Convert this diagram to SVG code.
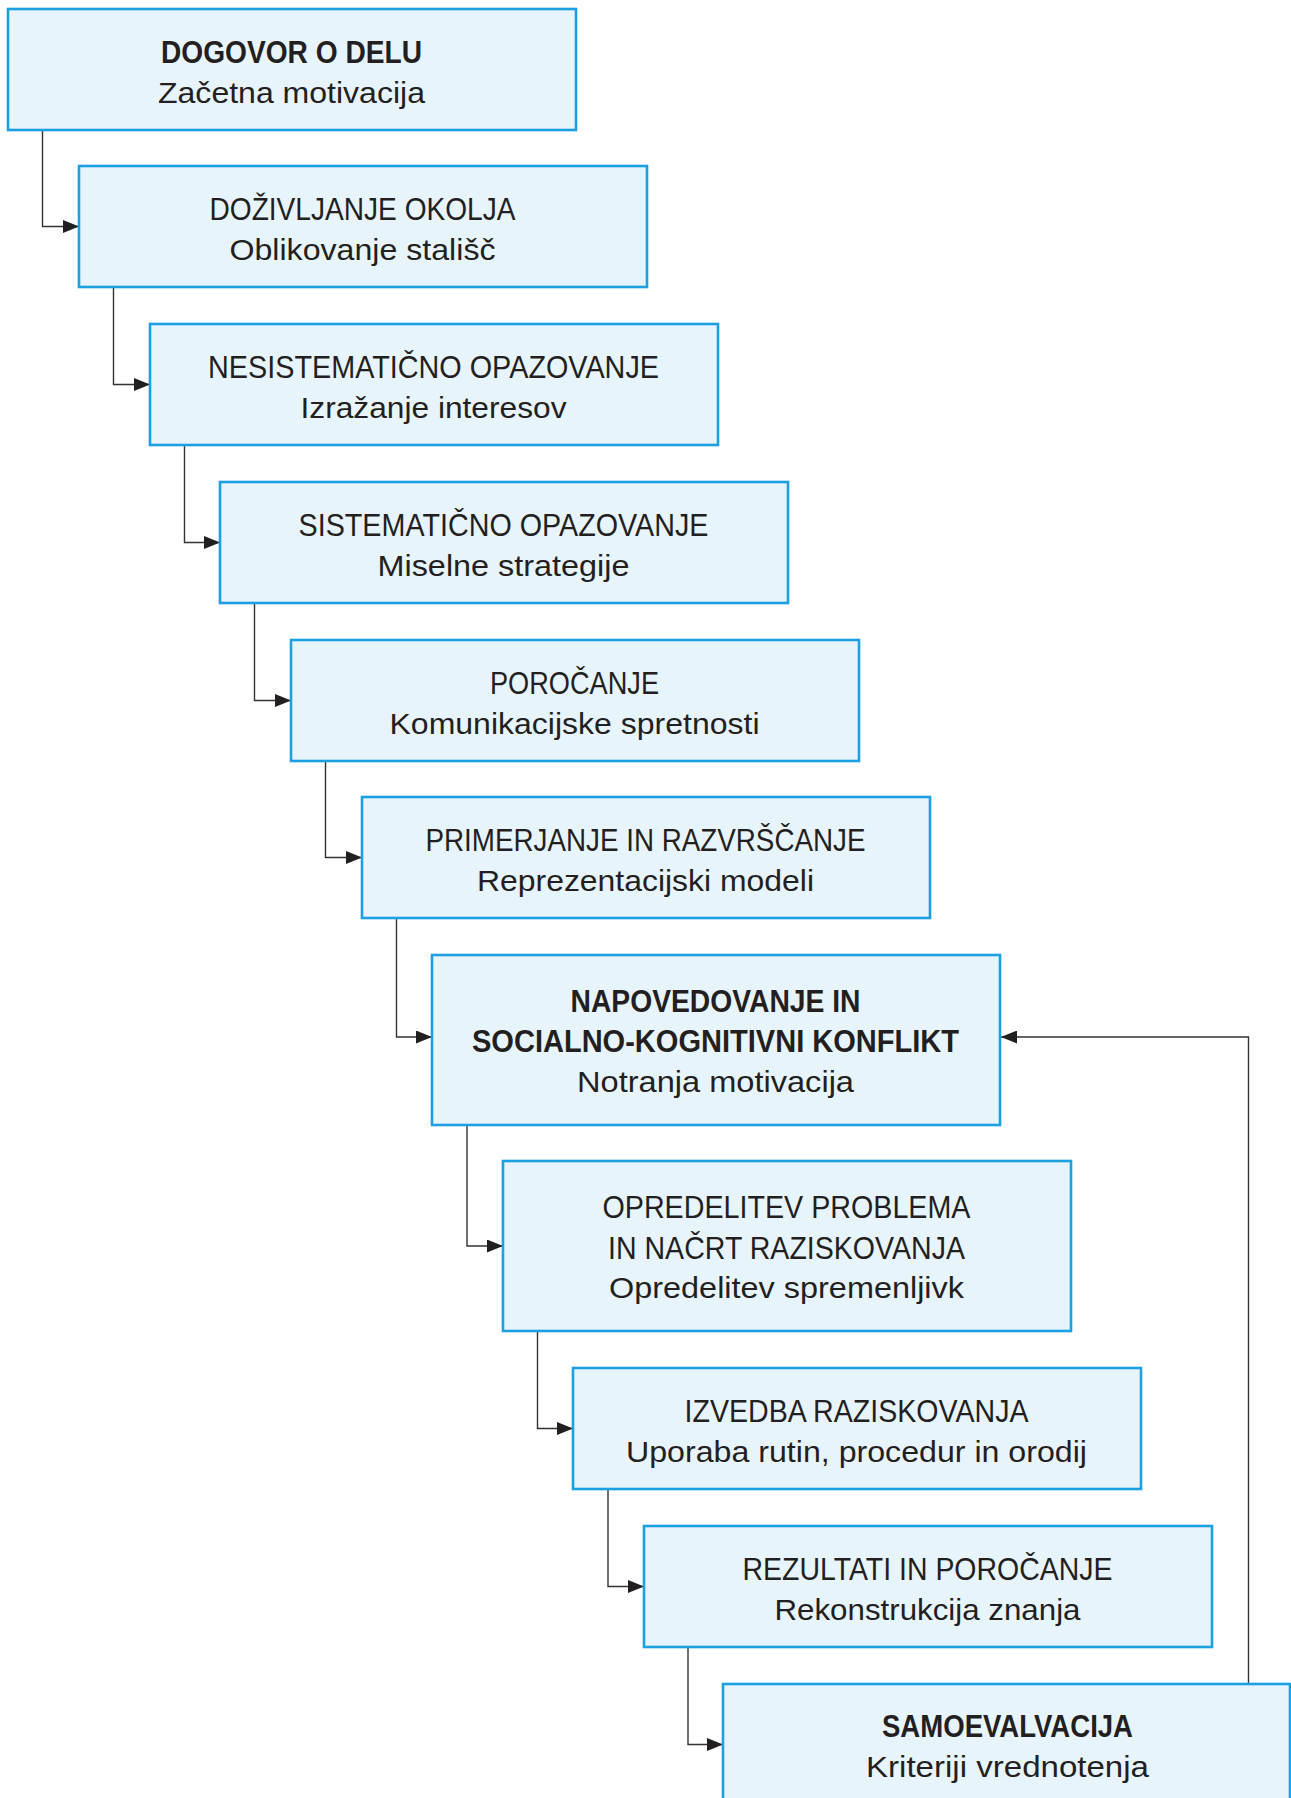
<svg xmlns="http://www.w3.org/2000/svg" width="1291" height="1798" viewBox="0 0 1291 1798">
<defs>
<style>
.box{fill:#e8f4fc;stroke:#1ba0e2;stroke-width:2.6}
.t{font-family:"Liberation Sans",Arial,sans-serif;font-size:29.5px;fill:#231f20;text-anchor:middle}
.u{font-size:31px}
.b{font-weight:bold}
.c{fill:none;stroke:#333;stroke-width:1.4}
</style>
<marker id="ah" markerUnits="userSpaceOnUse" markerWidth="16" markerHeight="13" refX="16" refY="6.5" orient="auto">
<path d="M0,0 L16,6.5 L0,13 z" fill="#231f20"/>
</marker>
</defs>
<rect width="1291" height="1798" fill="#fff"/>
<g id="connectors">
<path class="c" marker-end="url(#ah)" d="M42.5,130 V226.5 H79"/>
<path class="c" marker-end="url(#ah)" d="M113.5,287 V384.5 H150"/>
<path class="c" marker-end="url(#ah)" d="M184.5,445 V542.5 H220"/>
<path class="c" marker-end="url(#ah)" d="M254.5,603 V700.5 H291"/>
<path class="c" marker-end="url(#ah)" d="M325.5,761 V857.5 H362"/>
<path class="c" marker-end="url(#ah)" d="M396.5,918 V1037 H432"/>
<path class="c" marker-end="url(#ah)" d="M467,1125 V1246 H503"/>
<path class="c" marker-end="url(#ah)" d="M537.5,1331 V1428.5 H573"/>
<path class="c" marker-end="url(#ah)" d="M608,1489 V1586.5 H644"/>
<path class="c" marker-end="url(#ah)" d="M688,1647 V1744.5 H723"/>
<path class="c" marker-end="url(#ah)" d="M1248.5,1684 V1037 H1001"/>
</g>
<g id="n1">
<rect class="box" x="8" y="9" width="568" height="121"/>
<text class="t u b" x="291.5" y="63" textLength="261" lengthAdjust="spacingAndGlyphs">DOGOVOR O DELU</text>
<text class="t" x="291.5" y="102.5" textLength="267" lengthAdjust="spacingAndGlyphs">Začetna motivacija</text>
</g>
<g id="n2">
<rect class="box" x="79" y="166" width="568" height="121"/>
<text class="t u" x="362.5" y="220" textLength="306" lengthAdjust="spacingAndGlyphs">DOŽIVLJANJE OKOLJA</text>
<text class="t" x="362.5" y="259.5" textLength="266" lengthAdjust="spacingAndGlyphs">Oblikovanje stališč</text>
</g>
<g id="n3">
<rect class="box" x="150" y="324" width="568" height="121"/>
<text class="t u" x="433.5" y="378" textLength="451" lengthAdjust="spacingAndGlyphs">NESISTEMATIČNO OPAZOVANJE</text>
<text class="t" x="433.5" y="417.5" textLength="266" lengthAdjust="spacingAndGlyphs">Izražanje interesov</text>
</g>
<g id="n4">
<rect class="box" x="220" y="482" width="568" height="121"/>
<text class="t u" x="503.5" y="536" textLength="410" lengthAdjust="spacingAndGlyphs">SISTEMATIČNO OPAZOVANJE</text>
<text class="t" x="503.5" y="575.5" textLength="252" lengthAdjust="spacingAndGlyphs">Miselne strategije</text>
</g>
<g id="n5">
<rect class="box" x="291" y="640" width="568" height="121"/>
<text class="t u" x="574.5" y="694" textLength="169" lengthAdjust="spacingAndGlyphs">POROČANJE</text>
<text class="t" x="574.5" y="733.5" textLength="370" lengthAdjust="spacingAndGlyphs">Komunikacijske spretnosti</text>
</g>
<g id="n6">
<rect class="box" x="362" y="797" width="568" height="121"/>
<text class="t u" x="645.5" y="851" textLength="440" lengthAdjust="spacingAndGlyphs">PRIMERJANJE IN RAZVRŠČANJE</text>
<text class="t" x="645.5" y="890.5" textLength="337" lengthAdjust="spacingAndGlyphs">Reprezentacijski modeli</text>
</g>
<g id="n7">
<rect class="box" x="432" y="955" width="568" height="170"/>
<text class="t u b" x="715.5" y="1012" textLength="290" lengthAdjust="spacingAndGlyphs">NAPOVEDOVANJE IN</text>
<text class="t u b" x="715.5" y="1052" textLength="487" lengthAdjust="spacingAndGlyphs">SOCIALNO-KOGNITIVNI KONFLIKT</text>
<text class="t" x="715.5" y="1092" textLength="277" lengthAdjust="spacingAndGlyphs">Notranja motivacija</text>
</g>
<g id="n8">
<rect class="box" x="503" y="1161" width="568" height="170"/>
<text class="t u" x="786.5" y="1218" textLength="368" lengthAdjust="spacingAndGlyphs">OPREDELITEV PROBLEMA</text>
<text class="t u" x="786.5" y="1258.5" textLength="357" lengthAdjust="spacingAndGlyphs">IN NAČRT RAZISKOVANJA</text>
<text class="t" x="786.5" y="1298" textLength="355" lengthAdjust="spacingAndGlyphs">Opredelitev spremenljivk</text>
</g>
<g id="n9">
<rect class="box" x="573" y="1368" width="568" height="121"/>
<text class="t u" x="856.5" y="1422" textLength="344" lengthAdjust="spacingAndGlyphs">IZVEDBA RAZISKOVANJA</text>
<text class="t" x="856.5" y="1461.5" textLength="461" lengthAdjust="spacingAndGlyphs">Uporaba rutin, procedur in orodij</text>
</g>
<g id="n10">
<rect class="box" x="644" y="1526" width="568" height="121"/>
<text class="t u" x="927.5" y="1580" textLength="370" lengthAdjust="spacingAndGlyphs">REZULTATI IN POROČANJE</text>
<text class="t" x="927.5" y="1619.5" textLength="306" lengthAdjust="spacingAndGlyphs">Rekonstrukcija znanja</text>
</g>
<g id="n11">
<rect class="box" x="723" y="1684" width="567" height="121"/>
<text class="t u b" x="1007.5" y="1737" textLength="251" lengthAdjust="spacingAndGlyphs">SAMOEVALVACIJA</text>
<text class="t" x="1007.5" y="1776.5" textLength="283" lengthAdjust="spacingAndGlyphs">Kriteriji vrednotenja</text>
</g>
</svg>
